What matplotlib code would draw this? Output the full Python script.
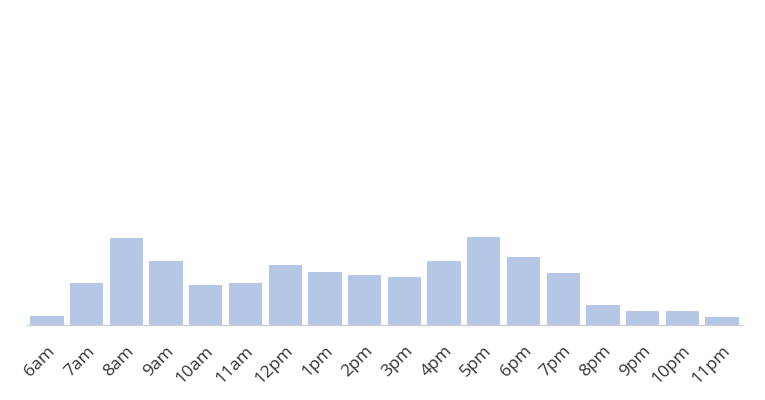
import numpy as np
import matplotlib
matplotlib.use("Agg")
import matplotlib.pyplot as plt

# Data
hours = ["6am", "7am", "8am", "9am", "10am", "11am", "12pm", "1pm", "2pm",
         "3pm", "4pm", "5pm", "6pm", "7pm", "8pm", "9pm", "10pm", "11pm"]
counts = [9, 42, 87, 64, 40, 42, 60, 53, 50, 48, 64, 88, 68, 52, 20, 14, 14, 8]

plt.rcParams['font.family'] = ['Open Sans', 'DejaVu Sans']

fig = plt.figure(figsize=(7.65, 4), dpi=100)
ax = fig.add_axes([27 / 765, 75 / 400, 715 / 765, 315 / 400])

x = np.arange(len(hours))
ax.bar(x, counts, width=0.84, color="#b4c7e7", edgecolor="none")

ax.set_xlim(-0.5, len(hours) - 0.5)
ax.set_ylim(0, 315)
ax.set_xticks(x)
ax.set_xticklabels(hours, rotation=45, ha="right", rotation_mode="anchor",
                   fontsize=12.5, color="#333333")
ax.tick_params(axis="x", length=0, pad=13)
ax.set_yticks([])

for side in ["top", "right", "left"]:
    ax.spines[side].set_visible(False)
ax.spines["bottom"].set_color("#d0d0d0")
ax.spines["bottom"].set_linewidth(1)

fig.savefig("out.png", dpi=100)
